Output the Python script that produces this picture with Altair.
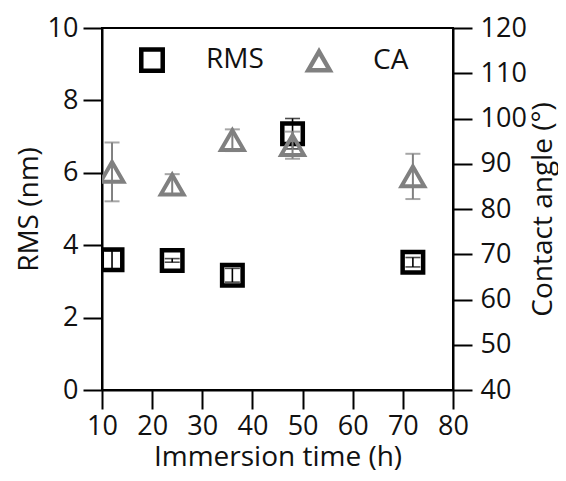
import altair as alt
import pandas as pd

# ---- data ----
times = [12, 24, 36, 48, 72]
rms = [3.60, 3.58, 3.17, 7.08, 3.53]
rms_err = [0.25, 0.05, 0.19, 0.42, 0.13]
ca = [88.2, 85.4, 95.2, 94.1, 87.2]
ca_err = [6.5, 2.3, 2.4, 3.0, 5.0]
series_names = ["RMS", "CA"]
x_ticks = [10, 20, 30, 40, 50, 60, 70, 80]
rms_ticks = [0, 2, 4, 6, 8, 10]
ca_ticks = [40, 50, 60, 70, 80, 90, 100, 110, 120]

FONT = "Open Sans"
LFS = 27
TFS = 28

rms_df = pd.DataFrame({
    "t": times, "v": rms,
    "lo": [v - e for v, e in zip(rms, rms_err)],
    "hi": [v + e for v, e in zip(rms, rms_err)],
    "series": "RMS",
})
ca_df = pd.DataFrame({
    "t": times, "v": ca,
    "lo": [v - e for v, e in zip(ca, ca_err)],
    "hi": [v + e for v, e in zip(ca, ca_err)],
    "series": "CA",
})

x_enc = alt.X("t:Q", scale=alt.Scale(domain=[10, 80], nice=False),
              axis=alt.Axis(values=x_ticks, title="Immersion time (h)",
                            labelPadding=4, titleY=75, titleBaseline="alphabetic"))

shape_scale = alt.Scale(domain=series_names, range=["square", "triangle-up"])
color_scale = alt.Scale(domain=series_names, range=["#000000", "#808080"])

rms_axis = alt.Axis(orient="left", values=rms_ticks, title="RMS (nm)",
                    labelPadding=5, titleX=-65, titleY=181, titleAngle=-90,
                    titleAlign="center", titleBaseline="alphabetic")
ca_axis = alt.Axis(orient="right", values=ca_ticks, title="Contact angle (°)",
                   labelPadding=8, titleX=98, titleY=181, titleAngle=-90,
                   titleAlign="center", titleBaseline="alphabetic")

rms_scale = alt.Scale(domain=[0, 10], nice=False)
ca_scale = alt.Scale(domain=[40, 120], nice=False)


def make_layer(df, scale, axis, color, stroke_w, size, err_w):
    base = alt.Chart(df)
    pts = base.mark_point(filled=False, strokeWidth=stroke_w, size=size, opacity=1, clip=True).encode(
        x=x_enc,
        y=alt.Y("v:Q", scale=scale, axis=axis),
        shape=alt.Shape("series:N", scale=shape_scale, legend=alt.Legend(title=None)),
        color=alt.Color("series:N", scale=color_scale, legend=alt.Legend(title=None)),
    )
    rule = base.mark_rule(color=color, strokeWidth=err_w, clip=True).encode(
        x=x_enc,
        y=alt.Y("lo:Q", scale=scale, axis=axis),
        y2="hi:Q",
    )
    caps = base.transform_fold(["lo", "hi"], as_=["k", "e"]).mark_tick(
        orient="horizontal", size=15, thickness=err_w, color=color, clip=True
    ).encode(
        x=x_enc,
        y=alt.Y("e:Q", scale=scale, axis=axis),
    )
    return alt.layer(pts, rule, caps)


rms_layer = make_layer(rms_df, rms_scale, rms_axis, "#000000", 4.5, 420, 1.6)
ca_layer = make_layer(ca_df, ca_scale, ca_axis, "#808080", 4, 520, 2)

chart = alt.layer(rms_layer, ca_layer).resolve_scale(y="independent").properties(
    width=351, height=362,
    padding={"left": 94, "top": 20, "right": 105, "bottom": 83},
    autosize=alt.AutoSizeParams(type="none"),
).configure_view(
    stroke="#000000", strokeWidth=2
).configure_axis(
    labelFont=FONT, titleFont=FONT, labelFontSize=LFS, titleFontSize=TFS,
    labelColor="#111111", titleColor="#111111", titleFontWeight="normal",
    domainColor="#000000", tickColor="#000000", domainWidth=2, tickWidth=2,
    tickSize=19, grid=False, labelFlush=False, labelOverlap=False,
).configure_legend(
    orient="none", legendX=36, legendY=18, direction="horizontal",
    labelFont=FONT, labelFontSize=28, labelColor="#111111",
    symbolSize=460, symbolStrokeWidth=4.5, labelOffset=40, columnPadding=35,
    padding=0, symbolType="square",
)

chart.save("out.html", embed_options={"renderer": "svg", "actions": False})
